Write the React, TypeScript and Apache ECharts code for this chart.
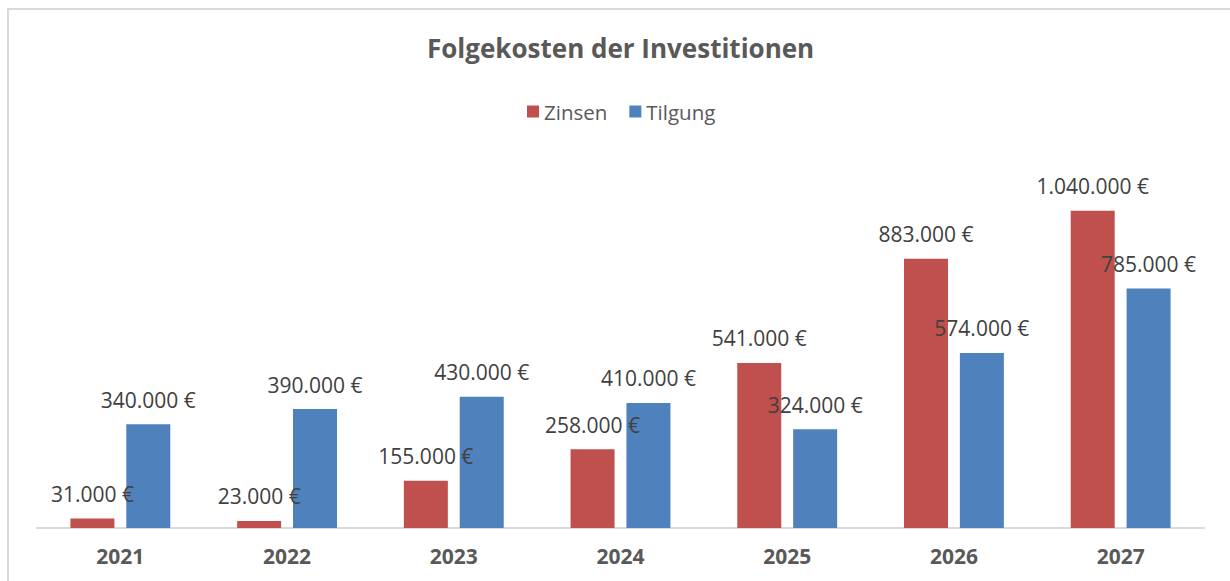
import React, { useEffect, useRef } from "react";
import * as echarts from "echarts";

const years = ["2021", "2022", "2023", "2024", "2025", "2026", "2027"];
const zinsen = [31000, 23000, 155000, 258000, 541000, 883000, 1040000];
const tilgung = [340000, 390000, 430000, 410000, 324000, 574000, 785000];
const seriesNames = ["Zinsen", "Tilgung"];
const titleText = "Folgekosten der Investitionen";

const FONT = "'Open Sans', Lato, sans-serif";

function fmt(v: number): string {
  return String(v).replace(/\B(?=(\d{3})+(?!\d))/g, ".") + " €";
}

export default function App() {
  const ref = useRef<HTMLDivElement>(null);
  useEffect(() => {
    if (!ref.current) return;
    const chart = echarts.init(ref.current, undefined, { renderer: "svg" });
    const label = {
      show: true,
      position: "top",
      distance: 14,
      fontSize: 21,
      fontFamily: FONT,
      color: "#404040",
      formatter: (p: any) => fmt(p.value),
    };
    chart.setOption({
      animation: false,
      backgroundColor: "#ffffff",
      title: {
        text: titleText,
        left: 422,
        top: 30,
        textStyle: { fontSize: 26, fontWeight: "bold", color: "#595959", fontFamily: FONT },
      },
      legend: {
        data: seriesNames,
        top: 96,
        left: 522,
        itemWidth: 12,
        itemHeight: 12,
        itemGap: 22,
        icon: "rect",
        textStyle: { fontSize: 20.5, color: "#595959", fontFamily: FONT },
      },
      graphic: [
        { type: "line", shape: { x1: 8, y1: 9, x2: 1230, y2: 9 }, style: { stroke: "#d9d9d9", lineWidth: 2 } },
        { type: "line", shape: { x1: 8, y1: 8, x2: 8, y2: 581 }, style: { stroke: "#d9d9d9", lineWidth: 2 } },
      ],
      grid: { left: 37, right: 26, top: 162, bottom: 53, containLabel: false },
      xAxis: {
        type: "category",
        data: years,
        axisTick: { show: false },
        axisLine: { lineStyle: { color: "#d9d9d9", width: 2 } },
        axisLabel: { fontSize: 21, fontWeight: "bold", color: "#595959", fontFamily: FONT, margin: 17 },
      },
      yAxis: {
        type: "value",
        min: 0,
        max: 1200000,
        show: false,
        splitLine: { show: false },
      },
      series: [
        {
          name: seriesNames[0],
          type: "bar",
          data: zinsen,
          barWidth: 44,
          barGap: "27%",
          itemStyle: { color: "#c0504d" },
          label,
        },
        {
          name: seriesNames[1],
          type: "bar",
          data: tilgung,
          barWidth: 44,
          barGap: "27%",
          itemStyle: { color: "#4f81bd" },
          label,
        },
      ],
    });
    return () => chart.dispose();
  }, []);
  return (
    <div
      ref={ref}
      style={{ position: "fixed", left: 0, top: 0, width: 1230, height: 581 }}
    />
  );
}
